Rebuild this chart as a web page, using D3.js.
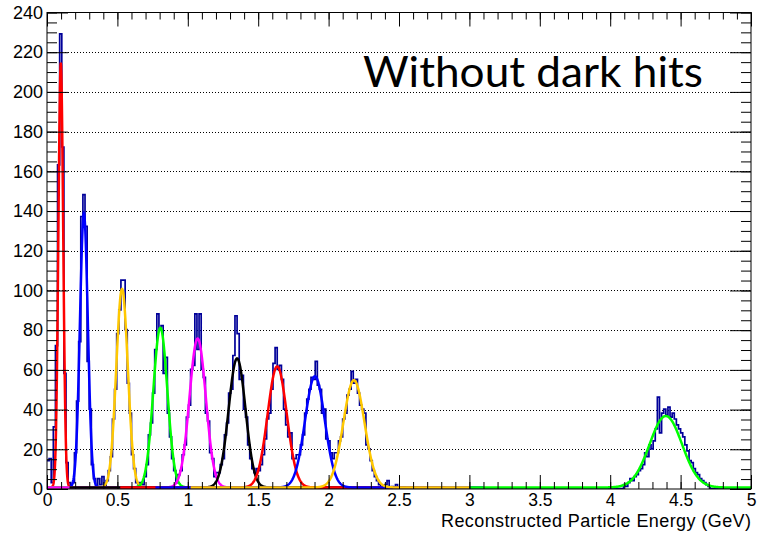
<!DOCTYPE html>
<html>
<head>
<meta charset="utf-8">
<script src="https://cdn.jsdelivr.net/npm/d3@7"></script>
<style>
  body { margin: 0; background: #fff; }
  text { font-family: "Liberation Sans", Arial, sans-serif; }
</style>
</head>
<body>
<div id="chart"></div>
<script>
// tick labels
const xTickValues = [0, 0.5, 1, 1.5, 2, 2.5, 3, 3.5, 4, 4.5, 5];
const yTickValues = [0, 20, 40, 60, 80, 100, 120, 140, 160, 180, 200, 220, 240];

// histogram: bin width in GeV, each peak = first bin index + counts
const binWidth = 0.015;
const noiseBins = [0, 1, 11, 24, 25, 26, 160, 161, 163, 165];
const noiseCounts = [14, 15, 2, 5, 2, 6, 2, 4, 1, 2];
const peakStart = [2, 12, 27, 44, 62, 80, 98, 116, 133, 273];
const peak1 = [3, 31, 72, 163, 229, 172, 58, 13, 3];
const peak2 = [3, 18, 44, 74, 137, 148, 132, 64, 40, 12, 5, 1];
const peak3 = [1, 4, 9, 16, 35, 50, 78, 90, 105, 105, 80, 53, 38, 17, 10, 3, 2];
const peak4 = [3, 2, 6, 12, 27, 33, 48, 70, 88, 80, 82, 58, 66, 38, 26, 15, 9, 3, 2];
const peak5 = [5, 9, 17, 22, 36, 42, 60, 62, 88, 70, 88, 60, 56, 38, 34, 18, 15, 6, 5, 2];
const peak6 = [3, 6, 12, 15, 27, 33, 48, 50, 67, 87, 78, 55, 57, 40, 36, 22, 15, 10, 6, 4];
const peak7 = [2, 6, 9, 12, 17, 25, 35, 38, 50, 63, 71, 60, 62, 55, 40, 32, 26, 28, 12, 9, 5, 3];
const peak8 = [3, 6, 12, 14, 22, 27, 38, 45, 50, 56, 55, 64, 52, 50, 38, 40, 25, 22, 14, 8, 6, 3, 2];
const peak9 = [2, 4, 7, 12, 15, 22, 26, 35, 38, 47, 50, 59, 53, 55, 48, 42, 40, 38, 22, 20, 14, 9, 6, 4, 2];
const peak10 = [2, 1, 3, 5, 4, 6, 7, 9, 10, 12, 18, 16, 22, 20, 24, 30, 46, 28, 38, 40, 37, 41, 36, 38, 35, 32, 30, 28, 26, 22, 19, 14, 13, 10, 8, 7, 5, 4, 3, 2, 1];

// gaussian fit results
const fitAmp = [214, 138, 100, 80.5, 75, 65, 61, 56, 54, 36];
const fitMean = [0.098, 0.262, 0.533, 0.805, 1.07, 1.35, 1.635, 1.903, 2.18, 4.395];
const fitSigma = [0.017, 0.028, 0.041, 0.050, 0.058, 0.060, 0.068, 0.070, 0.075, 0.115];
const fitLo = [0, 0, 0, 0, 0, 0.16, 0.52, 0.77, 1.02, 3.0];
const fitHi = [1.3, 1.46, 1.73, 2.0, 2.27, 2.55, 2.83, 3.1, 3.0, 5.0];
const fitColor = ['#ff0000', '#0000ff', '#ffc800', '#00ff00', '#ff00ff', '#000000', '#ff0000', '#0000ff', '#ffc800', '#00ff00'];

const width = 758, height = 535;
const padL = 47, padR = 751, padT = 12.5, padB = 489;

const svg = d3.select('#chart')
  .append('svg')
  .attr('width', width)
  .attr('height', height);

const x = d3.scaleLinear().domain([0, 5]).range([padL, padR]);
const y = d3.scaleLinear().domain([0, 240]).range([padB, padT]);

svg.append('defs').append('clipPath').attr('id', 'clip')
  .append('rect')
  .attr('x', padL).attr('y', padT - 2)
  .attr('width', padR - padL).attr('height', padB - padT + 2);

// dotted grid
svg.append('g')
  .selectAll('line')
  .data(yTickValues.filter(v => v > 0 && v < 240))
  .enter().append('line')
  .attr('x1', padL).attr('x2', padR)
  .attr('y1', d => Math.round(y(d)) + 0.5)
  .attr('y2', d => Math.round(y(d)) + 0.5)
  .attr('stroke', '#000')
  .attr('stroke-width', 1)
  .attr('stroke-dasharray', '1,2');

// fill bins
const nBins = Math.ceil(5 / binWidth);
const counts = new Array(nBins).fill(0);
noiseBins.forEach((b, i) => { counts[b] += noiseCounts[i]; });
[peak1, peak2, peak3, peak4, peak5, peak6, peak7, peak8, peak9, peak10].forEach((p, k) => {
  p.forEach((c, j) => { counts[peakStart[k] + j] += c; });
});

const steps = [];
counts.forEach((c, i) => {
  steps.push([i * binWidth, c]);
  steps.push([Math.min((i + 1) * binWidth, 5), c]);
});

const plot = svg.append('g').attr('clip-path', 'url(#clip)');

plot.append('path')
  .datum(steps)
  .attr('fill', 'none')
  .attr('stroke', '#000099')
  .attr('stroke-width', 1.7)
  .attr('d', d3.line().x(d => x(d[0])).y(d => y(d[1]) - 0.5));

// fits
fitMean.forEach((m, k) => {
  const pts = d3.range(fitLo[k], fitHi[k] + 1e-9, 0.002).map(e => {
    const t = (e - m) / fitSigma[k];
    return [e, fitAmp[k] * Math.exp(-0.5 * t * t)];
  });
  plot.append('path')
    .datum(pts)
    .attr('fill', 'none')
    .attr('stroke', fitColor[k])
    .attr('stroke-width', 2.5)
    .attr('d', d3.line().x(d => x(d[0])).y(d => y(d[1]) - 1.5));
});

// frame
svg.append('rect')
  .attr('x', padL).attr('y', padT)
  .attr('width', padR - padL).attr('height', padB - padT)
  .attr('fill', 'none')
  .attr('stroke', '#000')
  .attr('stroke-width', 1);

const xMinor = d3.range(0, 5.0001, 0.1);
const yMinor = d3.range(0, 240.01, 5);
const fmt = d => String(+d.toFixed(1));

function axisGroup(axis, tx, ty) {
  const g = svg.append('g').attr('transform', `translate(${tx},${ty})`).call(axis);
  g.select('.domain').remove();
  g.selectAll('line').attr('stroke', '#000');
  return g;
}

// bottom
axisGroup(d3.axisBottom(x).tickValues(xMinor).tickSize(-7).tickFormat(''), 0, padB);
axisGroup(d3.axisBottom(x).tickValues(xTickValues).tickSize(-14).tickPadding(5).tickFormat(fmt), 0, padB)
  .selectAll('text').attr('font-size', 17.5).attr('fill', '#000')
  .attr('font-family', '"Liberation Sans", Arial, sans-serif');
// top
axisGroup(d3.axisTop(x).tickValues(xMinor).tickSize(-7).tickFormat(''), 0, padT);
axisGroup(d3.axisTop(x).tickValues(xTickValues).tickSize(-14).tickFormat(''), 0, padT);
// left
axisGroup(d3.axisLeft(y).tickValues(yMinor).tickSize(-10).tickFormat(''), padL, 0);
axisGroup(d3.axisLeft(y).tickValues(yTickValues).tickSize(-21).tickPadding(4).tickFormat(d => d), padL, 0)
  .selectAll('text').attr('font-size', 18).attr('fill', '#000')
  .attr('font-family', '"Liberation Sans", Arial, sans-serif');
// right
axisGroup(d3.axisRight(y).tickValues(yMinor).tickSize(-10).tickFormat(''), padR, 0);
axisGroup(d3.axisRight(y).tickValues(yTickValues).tickSize(-21).tickFormat(''), padR, 0);

svg.append('text')
  .attr('x', padR).attr('y', 527)
  .attr('text-anchor', 'end')
  .attr('font-size', 18)
  .attr('textLength', 310)
  .text('Reconstructed Particle Energy (GeV)');

svg.append('text')
  .attr('x', 363).attr('y', 87)
  .attr('font-size', 43)
  .attr('textLength', 340)
  .attr('lengthAdjust', 'spacingAndGlyphs')
  .style('font-family', 'Lato, "Open Sans", sans-serif')
  .text('Without dark hits');
</script>
</body>
</html>
